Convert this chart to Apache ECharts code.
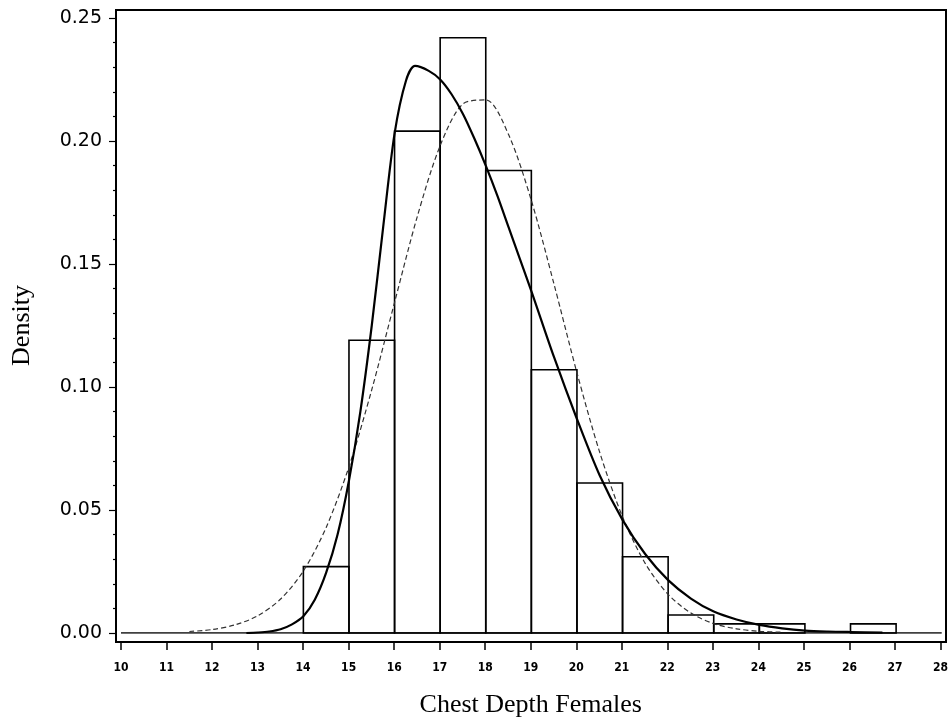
<!DOCTYPE html>
<html>
<head>
<meta charset="utf-8">
<script src="https://cdn.jsdelivr.net/npm/echarts@6/dist/echarts.min.js"></script>
<style>html,body{margin:0;padding:0;background:#fff}#c{width:951px;height:726px}</style>
</head>
<body>
<div id="c"></div>
<script>
// Histogram bins (left edge, width 1) and densities
const binStarts = [14, 15, 16, 17, 18, 19, 20, 21, 22, 23, 24, 25, 26];
const binHeights = [0.027, 0.119, 0.204, 0.242, 0.188, 0.107, 0.061, 0.031, 0.0073, 0.0037, 0.0037, 0, 0.0037];

// Solid (kernel-like) density curve
const solidX = [12.75, 13.0, 13.25, 13.5, 13.75, 14.0, 14.25, 14.5, 14.75, 15.0, 15.25, 15.5, 15.75, 16.0, 16.25, 16.45, 16.75, 17.0, 17.25, 17.5, 17.75, 18.0, 18.25, 18.5, 18.75, 19.0, 19.5, 20.0, 20.5, 21.0, 21.5, 22.0, 22.5, 23.0, 23.5, 24.0, 24.5, 25.0, 25.5, 26.0, 26.7];
const solidY = [0.0000, 0.0002, 0.0006, 0.0015, 0.0035, 0.0068, 0.0135, 0.0245, 0.040, 0.062, 0.090, 0.125, 0.165, 0.203, 0.2245, 0.2305, 0.2285, 0.225, 0.219, 0.211, 0.201, 0.190, 0.178, 0.165, 0.152, 0.139, 0.112, 0.087, 0.064, 0.046, 0.032, 0.0215, 0.0140, 0.0087, 0.0055, 0.0033, 0.0019, 0.0010, 0.0006, 0.0004, 0.0002];

// Dashed (normal) density curve
const dashX = [11.5, 12.0, 12.5, 13.0, 13.5, 14.0, 14.5, 15.0, 15.5, 16.0, 16.5, 17.0, 17.5, 18.0, 18.5, 19.0, 19.5, 20.0, 20.5, 21.0, 21.5, 22.0, 22.5, 23.0, 23.5, 24.0, 24.5];
const dashY = [0.0006, 0.0014, 0.0033, 0.0070, 0.0138, 0.0252, 0.0429, 0.0676, 0.0989, 0.1344, 0.1694, 0.1981, 0.2151, 0.2167, 0.2026, 0.1758, 0.1416, 0.1058, 0.0734, 0.0472, 0.0282, 0.0157, 0.0081, 0.0038, 0.0017, 0.0007, 0.0003];

const xTicks = { min: 10, max: 28, step: 1 };
const yTicks = { min: 0, max: 0.25, step: 0.05 };
const baseline = [[10, 0], [28, 0]];

const pair = (xs, ys) => xs.map((x, i) => [x, ys[i]]);

const chart = echarts.init(document.getElementById('c'), null, { renderer: 'canvas' });
chart.setOption({
  backgroundColor: '#fff',
  animation: false,
  grid: [
    { left: 121, right: 9.3, top: 18, bottom: 93 },
    { left: 116, right: 5, top: 10, bottom: 84, show: true, borderColor: '#000', borderWidth: 2, backgroundColor: 'transparent', z: 0 },
    { left: 121, right: 9.3, bottom: 84, height: 20 }
  ],
  xAxis: [
    { type: 'value', gridIndex: 0, show: false, min: xTicks.min, max: xTicks.max, interval: xTicks.step },
    { type: 'value', gridIndex: 1, show: false, min: 0, max: 1 },
    {
      type: 'value', gridIndex: 2, min: xTicks.min, max: xTicks.max, interval: xTicks.step,
      position: 'bottom',
      axisLine: { show: false },
      axisTick: { show: true, inside: false, length: 8, lineStyle: { color: '#000', width: 1.5 } },
      axisLabel: { margin: 20, color: '#000', fontFamily: 'DejaVu Sans Condensed, DejaVu Sans', fontWeight: 'bold', fontSize: 12 },
      splitLine: { show: false },
      name: 'Chest Depth Females', nameLocation: 'middle', nameGap: 50,
      nameTextStyle: { fontFamily: 'Liberation Serif', fontSize: 26, color: '#000' }
    }
  ],
  yAxis: [
    {
      type: 'value', gridIndex: 0, min: yTicks.min, max: yTicks.max, interval: yTicks.step,
      offset: 5,
      axisLine: { show: false },
      axisTick: { show: true, inside: false, length: 7, lineStyle: { color: '#000', width: 1.2 } },
      minorTick: { show: true, splitNumber: 5, length: 3, lineStyle: { color: '#000', width: 1.2 } },
      axisLabel: { margin: 14, color: '#000', fontFamily: 'DejaVu Sans', fontSize: 19, formatter: v => v.toFixed(2) },
      splitLine: { show: false },
      name: 'Density', nameLocation: 'middle', nameGap: 81,
      nameTextStyle: { fontFamily: 'Liberation Serif', fontSize: 26, color: '#000' }
    },
    { type: 'value', gridIndex: 1, show: false, min: 0, max: 1 },
    { type: 'value', gridIndex: 2, show: false, min: 0, max: 1 }
  ],
  series: [
    {
      type: 'custom', xAxisIndex: 0, yAxisIndex: 0, z: 2,
      data: binStarts.map((s, i) => [s, s + 1, binHeights[i]]),
      renderItem: function (params, api) {
        const x0 = api.value(0), x1 = api.value(1), h = api.value(2);
        if (h <= 0) return null;
        const p0 = api.coord([x0, h]);
        const p1 = api.coord([x1, 0]);
        return {
          type: 'rect',
          shape: { x: p0[0], y: p0[1], width: p1[0] - p0[0], height: p1[1] - p0[1] },
          style: { fill: 'none', stroke: '#000', lineWidth: 1.6 }
        };
      }
    },
    {
      type: 'line', xAxisIndex: 0, yAxisIndex: 0, z: 3,
      data: baseline, showSymbol: false, symbol: 'none',
      lineStyle: { color: '#000', width: 1.6 }
    },
    {
      type: 'line', xAxisIndex: 0, yAxisIndex: 0, z: 4,
      data: pair(dashX, dashY), showSymbol: false, symbol: 'none',
      smooth: 0.3,
      lineStyle: { color: '#333', width: 1.2, type: [5, 3] }
    },
    {
      type: 'line', xAxisIndex: 0, yAxisIndex: 0, z: 5,
      data: pair(solidX, solidY), showSymbol: false, symbol: 'none',
      smooth: 0.3,
      lineStyle: { color: '#000', width: 2.2 }
    }
  ]
});
</script>
</body>
</html>
